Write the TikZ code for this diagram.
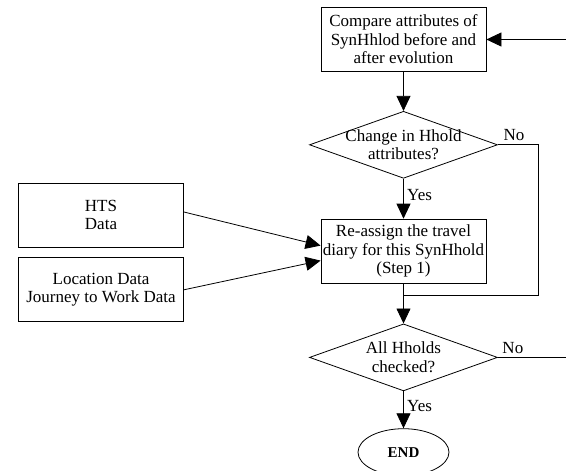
\documentclass[tikz,border=0pt]{standalone}
\usepackage{fontspec}
\setmainfont{Liberation Serif}
\usetikzlibrary{positioning,shapes.geometric,arrows.meta}

\begin{document}
\begin{tikzpicture}[x=1pt,y=1pt,
  font=\fontsize{17}{18.5}\selectfont,
  box/.style={draw,line width=0.8pt,align=center,minimum width=165pt,minimum height=64pt,inner sep=0pt},
  ask/.style={draw,diamond,line width=0.8pt,minimum width=188pt,minimum height=67pt,inner sep=0pt},
  stop/.style={draw,ellipse,line width=0.8pt,minimum width=91pt,minimum height=47pt,inner sep=0pt},
  arr/.style={line width=0.8pt,-{Triangle[length=15pt,width=14pt]}},
  lin/.style={line width=0.8pt}]
\useasboundingbox (0,0) rectangle (566,-471);
\node [box] (cmp) at (403.5,-39.5) {Compare attributes of\\SynHhlod before and\\after evolution};
\node [ask, below=39pt of cmp, label={[align=center]center:Change in Hhold\\attributes?}] (chg) {};
\node [box, below=40pt of chg] (assign) {Re-assign the travel\\diary for this SynHhold\\(Step 1)};
\node [ask, below=40pt of assign, label={[align=center]center:All Hholds\\checked?}] (all) {};
\node [stop, below=37pt of all] (end) {\fontsize{15}{17}\selectfont\bfseries END};
\node [box] (hts) at (101,-215) {HTS\\Data};
\node [box, below=10pt of hts] (loc) {Location Data\\Journey to Work Data};
\coordinate (edge) at (566,0);
\coordinate [below=12pt of assign.south] (join);
\draw [arr] (cmp.east -| edge) -- (cmp.east);
\draw [arr] (cmp) -- (chg);
\draw [arr] (chg) -- node[right,pos=0.4] {Yes} (assign);
\draw [lin] (chg.east) -- node[above,pos=0.4] {No} ++(40,0) |- (join);
\draw [arr] ([yshift=3pt]hts.east) -- ([yshift=5.5pt]assign.west);
\draw [arr] (loc.east) -- ([yshift=-9.5pt]assign.west);
\draw [arr] (assign) -- (all);
\draw [lin] (all.east) -- node[above,pos=0.22] {No} (all.east -| edge);
\draw [arr] (all) -- node[right,pos=0.4] {Yes} (end);
\end{tikzpicture}
\end{document}
